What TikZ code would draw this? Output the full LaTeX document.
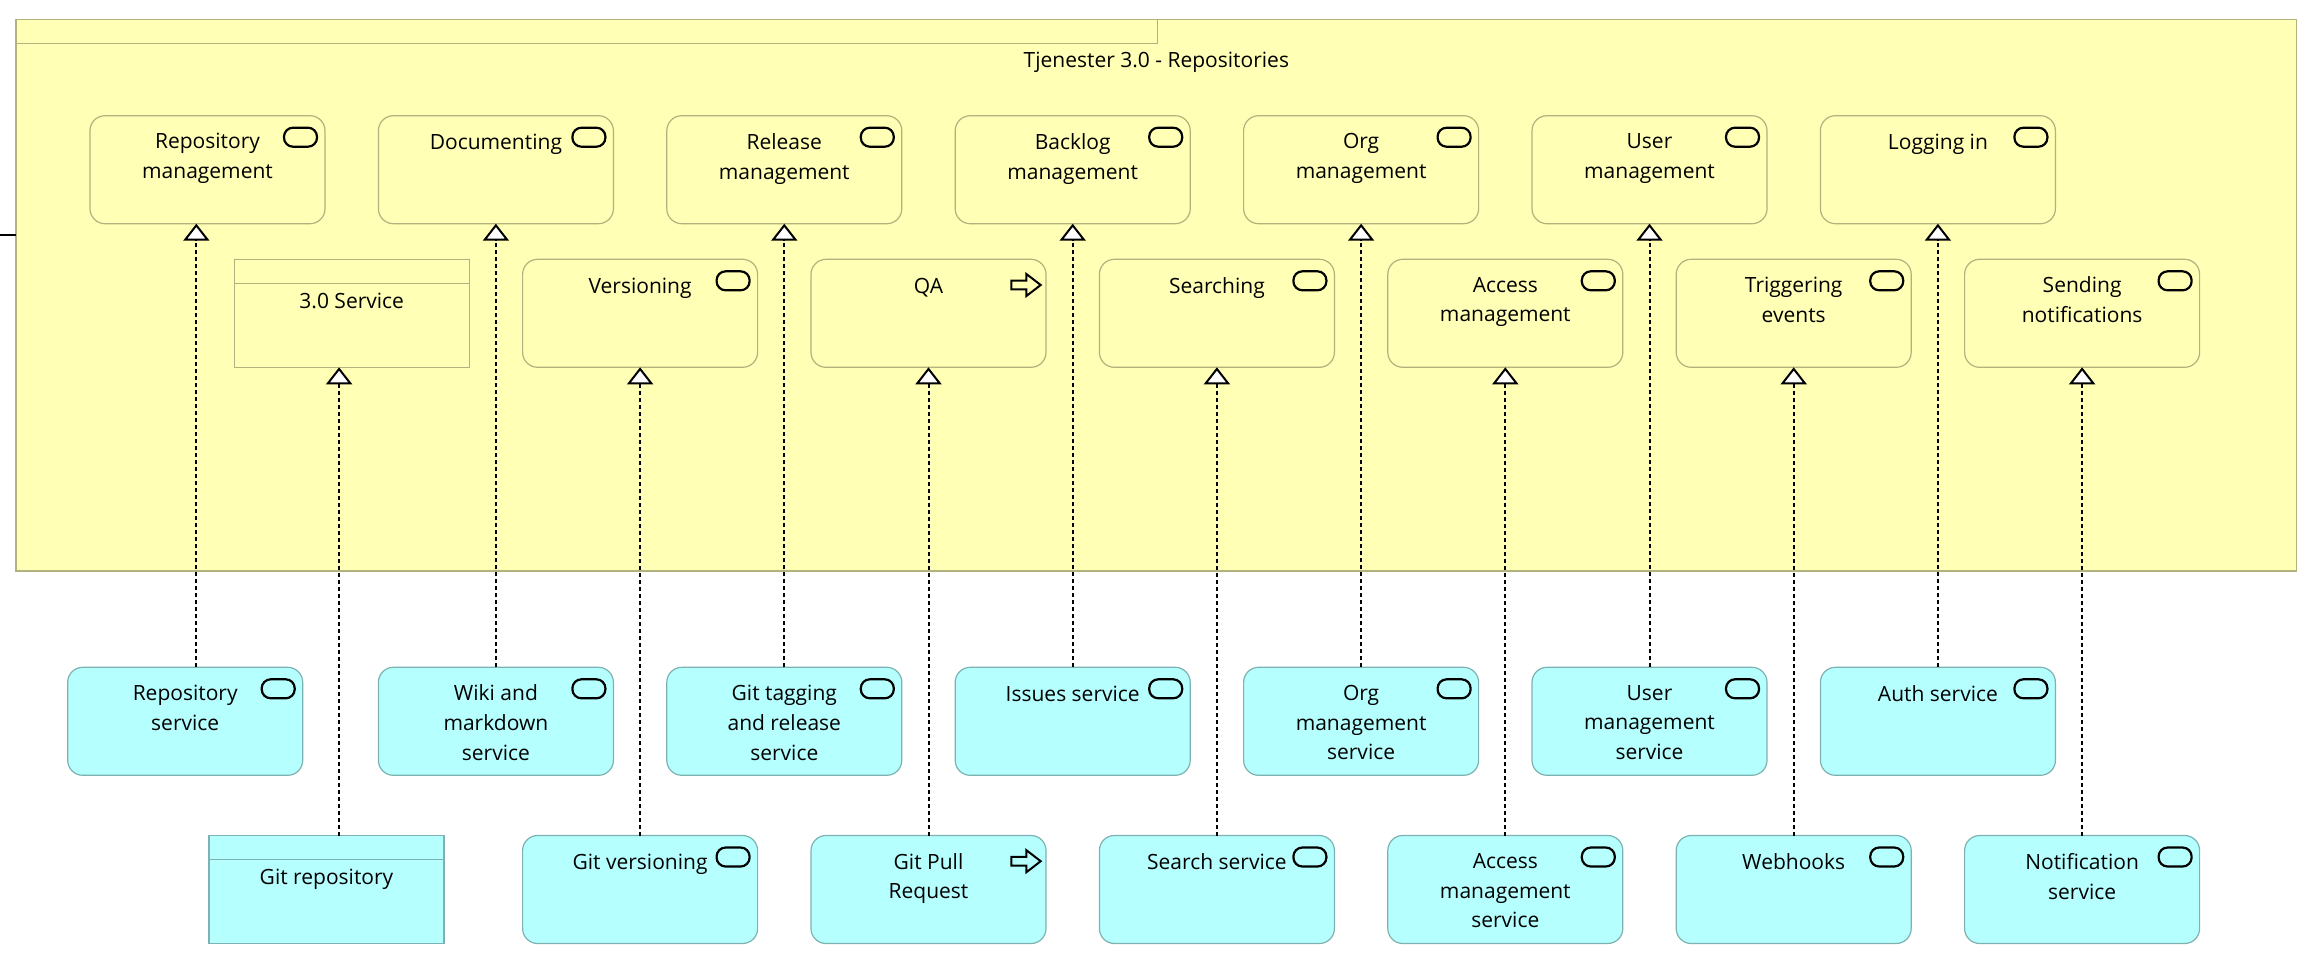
\documentclass[tikz,border=0pt]{standalone}
\usepackage{fontspec}
\setmainfont{Open Sans}
\usetikzlibrary{arrows.meta,calc}
\definecolor{bizfill}{HTML}{FFFFB5}
\definecolor{bizline}{HTML}{B2B27E}
\definecolor{appfill}{HTML}{B5FFFF}
\definecolor{appline}{HTML}{7EB2B2}
\tikzset{
  box/.style={rectangle, rounded corners=15pt, minimum width=235pt, minimum height=108pt,
    anchor=north west, line width=1.2pt, inner sep=0pt, outer sep=0pt},
  biz/.style={box, fill=bizfill, draw=bizline},
  app/.style={box, fill=appfill, draw=appline},
  objbiz/.style={biz, sharp corners},
  objapp/.style={app, sharp corners},
  txt/.style={anchor=north, align=center, inner sep=0pt, font=\fontsize{21}{29.8}\selectfont,
    execute at begin node={\rule{0pt}{16pt}}},
  real/.style={line width=2pt, dash pattern=on 4pt off 3pt,
    -{Triangle[width=26pt,length=17pt,fill=white,line join=miter]}},
  svcicon/.pic={\draw[line width=2.2pt, rounded corners=9pt] (-33,0) rectangle (0,-19);},
  procicon/.pic={\draw[line width=2pt, line join=miter] (-29.3,4.3) -- (-14.3,4.3) -- (-14.3,11) -- (0,0)
      -- (-14.3,-11) -- (-14.3,-4.3) -- (-29.3,-4.3) -- cycle;}
}
\begin{document}
\begin{tikzpicture}[x=1pt,y=1pt]
\useasboundingbox (0,0) rectangle (2307,-975);
% container
\node[rectangle, draw=bizline, fill=bizfill, line width=1.2pt, minimum width=2280.7pt, minimum height=551.7pt,
  anchor=north west, inner sep=0pt, outer sep=0pt] (grp) at (16,-19.3) {};
\node[rectangle, draw=bizline, fill=bizfill, line width=1.2pt, minimum width=1141.7pt, minimum height=24pt,
  anchor=north west, inner sep=0pt, outer sep=0pt] (tab) at (16,-19.3) {};
\node[txt] (grpT) at ([yshift=-32.4]grp.north) {Tjenester 3.0 - Repositories};
\coordinate (stub) at (0,-235);
\draw[line width=2pt] (stub) -- (stub -| grp.west);

% row 1
\node[biz] (rm)  at (90,-115.7) {};
\node[biz] (doc) at (378.4,-115.7) {};
\node[biz] (rel) at (666.8,-115.7) {};
\node[biz] (bl)  at (955.2,-115.7) {};
\node[biz] (org) at (1243.6,-115.7) {};
\node[biz] (um)  at (1532,-115.7) {};
\node[biz] (log) at (1820.4,-115.7) {};
% row 2
\node[objbiz] (s30)  at (234.2,-259.3) {};
\node[biz] (ver)  at (522.6,-259.3) {};
\node[biz] (qa)   at (811,-259.3) {};
\node[biz] (srch) at (1099.4,-259.3) {};
\node[biz] (acc)  at (1387.8,-259.3) {};
\node[biz] (trig) at (1676.2,-259.3) {};
\node[biz] (send) at (1964.6,-259.3) {};
% row 3
\node[app] (rs)   at (67.7,-667.3) {};
\node[app] (wiki) at (378.4,-667.3) {};
\node[app] (gtag) at (666.8,-667.3) {};
\node[app] (iss)  at (955.2,-667.3) {};
\node[app] (orgs) at (1243.6,-667.3) {};
\node[app] (ums)  at (1532,-667.3) {};
\node[app] (auth) at (1820.4,-667.3) {};
% row 4
\node[objapp] (grepo) at (209,-835.5) {};
\node[app] (gver)  at (522.6,-835.5) {};
\node[app] (gpr)   at (811,-835.5) {};
\node[app] (ssvc)  at (1099.4,-835.5) {};
\node[app] (accs)  at (1387.8,-835.5) {};
\node[app] (hook)  at (1676.2,-835.5) {};
\node[app] (notif) at (1964.6,-835.5) {};

% object header lines
\draw[bizline, line width=1.2pt] ([yshift=-24]s30.north west) -- ([yshift=-24]s30.north east);
\draw[appline, line width=1.2pt] ([yshift=-24]grepo.north west) -- ([yshift=-24]grepo.north east);

% icons
\foreach \n in {rm,doc,rel,bl,org,um,log,ver,srch,acc,trig,send,rs,wiki,gtag,iss,orgs,ums,auth,gver,ssvc,accs,hook,notif}
  \pic at ([xshift=-8,yshift=-12]\n.north east) {svcicon};
\foreach \n in {qa,gpr}
  \pic at ([xshift=-5.3,yshift=-25.7]\n.north east) {procicon};

% texts
\node[txt] (rmT)   at ([yshift=-17.5]rm.north)  {Repository\\management};
\node[txt] (docT)  at ([yshift=-17.5]doc.north) {Documenting};
\node[txt] (relT)  at ([yshift=-17.5]rel.north) {Release\\management};
\node[txt] (blT)   at ([yshift=-17.5]bl.north)  {Backlog\\management};
\node[txt] (orgT)  at ([yshift=-17.5]org.north) {Org\\management};
\node[txt] (umT)   at ([yshift=-17.5]um.north)  {User\\management};
\node[txt] (logT)  at ([yshift=-17.5]log.north) {Logging in};
\node[txt] (s30T)  at ([yshift=-33]s30.north) {3.0 Service};
\node[txt] (verT)  at ([yshift=-17.5]ver.north) {Versioning};
\node[txt] (qaT)   at ([yshift=-17.5]qa.north)  {QA};
\node[txt] (srchT) at ([yshift=-17.5]srch.north) {Searching};
\node[txt] (accT)  at ([yshift=-17.5]acc.north) {Access\\management};
\node[txt] (trigT) at ([yshift=-17.5]trig.north) {Triggering\\events};
\node[txt] (sendT) at ([yshift=-17.5]send.north) {Sending\\notifications};
\node[txt] (rsT)   at ([yshift=-17.5]rs.north)  {Repository\\service};
\node[txt] (wikiT) at ([yshift=-17.5]wiki.north) {Wiki and\\markdown\\service};
\node[txt] (gtagT) at ([yshift=-17.5]gtag.north) {Git tagging\\and release\\service};
\node[txt] (issT)  at ([yshift=-17.5]iss.north) {Issues service};
\node[txt] (orgsT) at ([yshift=-17.5]orgs.north) {Org\\management\\service};
\node[txt] (umsT)  at ([yshift=-17.5]ums.north) {User\\management\\service};
\node[txt] (authT) at ([yshift=-17.5]auth.north) {Auth service};
\node[txt] (grepoT) at ([yshift=-33]grepo.north) {Git repository};
\node[txt] (gverT) at ([yshift=-17.5]gver.north) {Git versioning};
\node[txt] (gprT)  at ([yshift=-17.5]gpr.north) {Git Pull\\Request};
\node[txt] (ssvcT) at ([yshift=-17.5]ssvc.north) {Search service};
\node[txt] (accsT) at ([yshift=-17.5]accs.north) {Access\\management\\service};
\node[txt] (hookT) at ([yshift=-17.5]hook.north) {Webhooks};
\node[txt] (notifT) at ([yshift=-17.5]notif.north) {Notification\\service};

% realization connectors
\coordinate (m1) at ($(rs.north)!0.5!(rm.south)$);
\draw[real] (rs.north -| m1) -- (rm.south -| m1);
\draw[real] (wiki.north) -- (doc.south);
\draw[real] (gtag.north) -- (rel.south);
\draw[real] (iss.north) -- (bl.south);
\draw[real] (orgs.north) -- (org.south);
\draw[real] (ums.north) -- (um.south);
\draw[real] (auth.north) -- (log.south);
\coordinate (m2) at ($(grepo.north)!0.5!(s30.south)$);
\draw[real] (grepo.north -| m2) -- (s30.south -| m2);
\draw[real] (gver.north) -- (ver.south);
\draw[real] (gpr.north) -- (qa.south);
\draw[real] (ssvc.north) -- (srch.south);
\draw[real] (accs.north) -- (acc.south);
\draw[real] (hook.north) -- (trig.south);
\draw[real] (notif.north) -- (send.south);
\end{tikzpicture}
\end{document}
